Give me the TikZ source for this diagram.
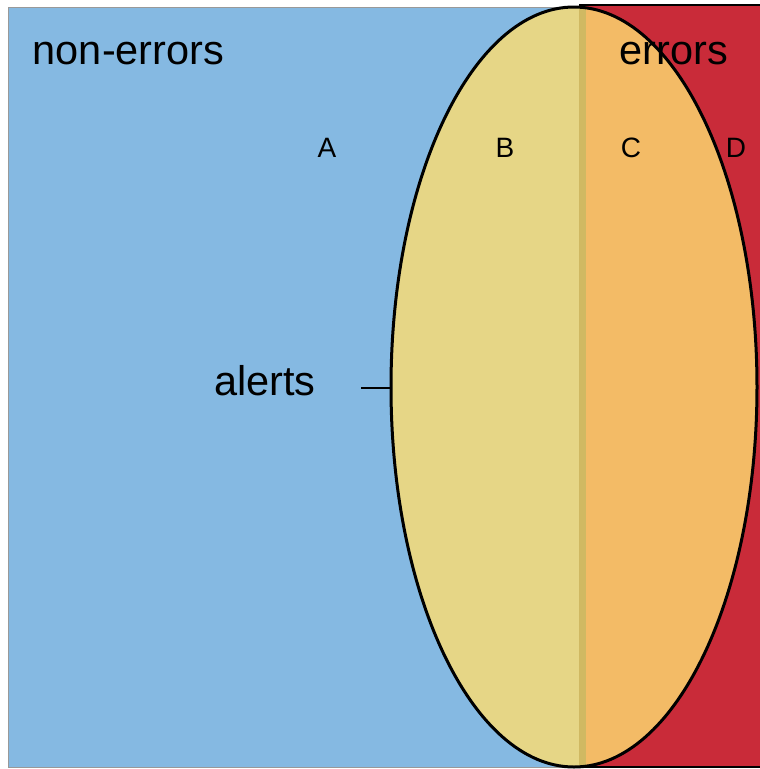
\documentclass[tikz,border=0pt]{standalone}
\usepackage{fontspec}
\setmainfont{Liberation Sans}
\definecolor{bluebg}{HTML}{85B9E2}
\definecolor{redbg}{HTML}{C92B39}
\definecolor{yel}{HTML}{E6D686}
\definecolor{ora}{HTML}{F3BB66}
\definecolor{band}{HTML}{D0B962}
\begin{document}
\begin{tikzpicture}[x=1pt,y=-1pt,
  big/.style={font=\fontsize{41.5}{49}\selectfont, anchor=base, inner sep=0pt},
  small/.style={font=\fontsize{28}{34}\selectfont, anchor=base, inner sep=0pt}]
\useasboundingbox (0,0) rectangle (760,769);
\fill[white] (0,0) rectangle (760,769);
% regions
\draw[fill=bluebg, draw=gray!80, line width=1pt] (8,7) rectangle (580,767);
\draw[fill=redbg, draw=black, line width=2.5pt] (580,5) rectangle (775,767);
% ellipse halves
\begin{scope}
  \clip (574,387) ellipse [x radius=183, y radius=380];
  \fill[yel] (380,0) rectangle (580,769);
  \fill[ora] (580,0) rectangle (770,769);
  \fill[band] (579,0) rectangle (586,769);
\end{scope}
\draw[line width=3pt] (574,387) ellipse [x radius=183, y radius=380];
\coordinate (ell) at (391,388);
% labels
\node[big] (nonerr) at (128.5,64) {non-errors};
\node[big] (err) at (674,64) {errors};
\node[big] (alerts) at (265,395) {alerts};
\coordinate (alertend) at (361,388);
\draw[line width=2pt] (alertend) -- (ell);
\node[small] (A) at (327,157) {A};
\node[small] (B) at (505,157) {B};
\node[small] (C) at (631,157) {C};
\node[small] (D) at (736,157) {D};
\end{tikzpicture}
\end{document}
